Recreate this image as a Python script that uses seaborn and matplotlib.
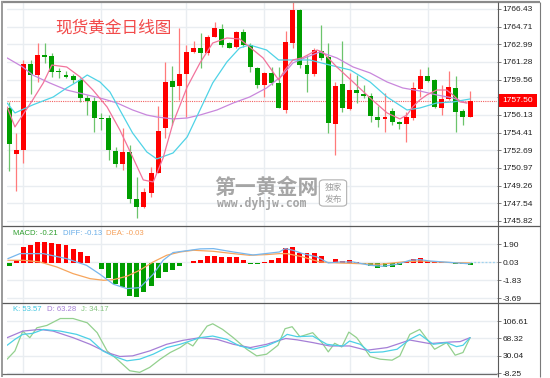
import numpy as np
import pandas as pd
import matplotlib
matplotlib.use("Agg")
import matplotlib.pyplot as plt
import seaborn as sns
from matplotlib.lines import Line2D
from matplotlib.patches import Rectangle, FancyBboxPatch
from matplotlib.transforms import blended_transform_factory

sns.set_style("white")
plt.rcParams['font.family'] = ['DejaVu Sans', 'Noto Sans CJK SC']

# ---------------- data ----------------
opens = [1756.80, 1752.33, 1752.72, 1761.08, 1760.01, 1761.96, 1761.86, 1760.40, 1760.01, 1759.92,
         1759.53, 1757.78, 1757.48, 1755.83, 1755.83, 1752.62, 1751.36, 1752.53, 1747.96, 1747.18,
         1748.54, 1750.49, 1754.86, 1759.43, 1758.94, 1760.11, 1762.25, 1762.64, 1762.15, 1763.71,
         1764.49, 1763.12, 1762.74, 1764.20, 1762.93, 1760.69, 1759.04, 1760.21, 1759.24, 1756.61,
         1763.12, 1766.33, 1760.98, 1760.11, 1762.35, 1761.76, 1755.25, 1759.14, 1756.71, 1758.55,
         1758.17, 1757.97, 1755.93, 1755.74, 1756.51, 1755.44, 1755.25, 1755.83, 1758.65, 1759.92,
         1759.53, 1756.80, 1757.68, 1758.75, 1756.51, 1755.93]
highs = [1757.39, 1754.37, 1761.47, 1761.47, 1763.12, 1763.12, 1762.15, 1760.69, 1760.40, 1760.11,
         1759.72, 1758.07, 1757.87, 1756.32, 1756.12, 1753.01, 1754.86, 1753.21, 1750.10, 1749.03,
         1751.07, 1757.00, 1761.28, 1760.89, 1764.58, 1762.93, 1763.32, 1764.10, 1763.90, 1765.17,
         1764.97, 1763.22, 1764.29, 1764.49, 1763.12, 1760.79, 1760.30, 1760.79, 1760.79, 1764.29,
         1767.11, 1766.43, 1761.96, 1762.64, 1764.87, 1763.12, 1759.33, 1763.32, 1760.21, 1760.01,
         1759.04, 1758.26, 1757.00, 1758.26, 1756.80, 1755.54, 1756.42, 1759.33, 1760.60, 1760.79,
         1759.62, 1759.04, 1760.40, 1759.92, 1756.71, 1758.46]
lows = [1750.68, 1748.74, 1751.46, 1758.17, 1759.33, 1761.18, 1759.82, 1759.72, 1759.72, 1759.24,
        1757.39, 1756.12, 1754.47, 1754.66, 1751.75, 1751.07, 1750.78, 1747.57, 1746.11, 1747.08,
        1748.15, 1750.49, 1753.89, 1755.15, 1757.58, 1755.93, 1762.15, 1760.69, 1761.96, 1763.71,
        1762.74, 1762.64, 1762.64, 1762.74, 1760.30, 1758.75, 1757.87, 1759.04, 1756.80, 1756.32,
        1762.64, 1760.69, 1758.36, 1759.92, 1761.47, 1754.37, 1752.24, 1756.42, 1756.61, 1757.29,
        1757.78, 1755.44, 1754.96, 1754.47, 1755.15, 1754.76, 1753.50, 1755.64, 1757.87, 1759.33,
        1756.80, 1756.12, 1757.58, 1754.47, 1755.15, 1755.93]
closes = [1753.31, 1752.72, 1761.08, 1760.01, 1761.96, 1761.76, 1760.30, 1760.30, 1759.82, 1759.53,
          1757.78, 1757.48, 1755.83, 1755.74, 1752.72, 1751.36, 1752.53, 1747.96, 1747.18, 1748.64,
          1750.49, 1754.57, 1759.33, 1758.85, 1760.11, 1762.25, 1762.64, 1762.15, 1763.71, 1764.58,
          1762.93, 1762.64, 1764.20, 1762.93, 1760.79, 1759.04, 1760.21, 1759.24, 1756.80, 1763.22,
          1766.33, 1760.98, 1760.11, 1762.44, 1761.67, 1755.35, 1758.94, 1756.80, 1758.55, 1758.26,
          1757.97, 1756.03, 1755.64, 1755.93, 1755.44, 1755.25, 1755.93, 1758.75, 1759.92, 1759.43,
          1756.90, 1757.68, 1758.85, 1756.42, 1755.93, 1757.50]

ma_short_x = [-0.3, 0.8, 1.9, 3.3, 4.8, 6.0, 8.1, 10.0, 11.8, 13.8, 15.6, 17.4, 18.9, 20.3, 21.7, 23.1,
              25.1, 26.9, 28.7, 30.7, 32.5, 33.9, 35.8, 37.2, 38.0, 38.9, 40.0, 41.3, 43.4, 44.2, 46.2,
              48.5, 50.9, 53.3, 55.1, 56.1, 56.9, 57.9, 58.9, 60.3, 61.7, 62.6, 63.6, 64.6]
ma_short_y = [1756.90, 1754.96, 1756.12, 1757.58, 1759.24, 1760.98, 1760.79, 1759.82, 1758.55, 1756.90,
              1754.66, 1752.04, 1749.81, 1749.61, 1751.94, 1755.35, 1758.85, 1761.18, 1763.12, 1763.61,
              1763.51, 1762.74, 1761.67, 1760.30, 1759.53, 1760.50, 1761.47, 1761.67, 1762.44, 1762.25,
              1760.79, 1759.33, 1757.78, 1756.32, 1755.74, 1756.12, 1756.90, 1757.58, 1758.07, 1758.55,
              1758.55, 1758.07, 1757.39, 1757.29]
ma_mid_x = [-0.3, 0.8, 3.3, 6.2, 8.1, 10.0, 11.0, 12.8, 14.2, 15.6, 17.4, 19.4, 20.8, 23.1, 25.1, 26.9,
            28.7, 30.7, 32.5, 33.9, 36.3, 38.0, 40.0, 42.4, 45.2, 48.1, 50.9, 53.3, 56.1, 57.9, 60.3,
            62.6, 65.0]
ma_mid_y = [1757.29, 1756.32, 1757.10, 1757.87, 1758.75, 1759.53, 1760.01, 1759.33, 1758.36, 1756.61,
            1754.37, 1752.53, 1751.85, 1752.43, 1753.99, 1756.61, 1759.24, 1761.28, 1762.64, 1762.93,
            1762.44, 1761.47, 1761.47, 1761.47, 1760.98, 1760.50, 1759.33, 1757.87, 1756.61, 1756.80,
            1757.29, 1757.39, 1757.68]
ma_long_x = [-0.3, 1.9, 3.3, 5.7, 8.1, 11.0, 12.8, 15.2, 17.4, 19.4, 20.8, 23.1, 25.1, 26.9, 29.3, 31.6,
             33.9, 36.3, 38.6, 40.0, 42.0, 43.8, 46.2, 48.5, 50.9, 53.3, 55.5, 57.9, 60.3, 62.6, 64.5]
ma_long_y = [1761.67, 1760.79, 1760.01, 1759.24, 1758.55, 1758.07, 1757.78, 1757.29, 1756.61, 1756.12,
             1755.93, 1755.74, 1755.83, 1756.12, 1756.61, 1757.29, 1757.87, 1758.75, 1760.01, 1761.18,
             1761.76, 1762.25, 1761.67, 1760.79, 1760.21, 1759.33, 1758.75, 1758.46, 1758.07, 1757.78,
             1757.29]

price_ticks = [1745.82, 1747.54, 1749.26, 1750.97, 1752.69, 1754.41, 1756.13, 1757.84,
               1759.56, 1761.28, 1762.99, 1764.71, 1766.43]
price_labels = ['1745.82', '1747.54', '1749.26', '1750.97', '1752.69', '1754.41', '1756.13', '',
                '1759.56', '1761.28', '1762.99', '1764.71', '1766.43']
last_price = 1757.50

macd_hist = [-0.35, 0.31, 1.62, 1.79, 2.14, 2.14, 2.04, 1.97, 1.79, 1.45, 1.10, 0.66, -0.07, -0.62,
             -1.55, -2.17, -2.52, -3.48, -3.55, -3.04, -2.42, -1.55, -0.97, -0.79, -0.38, -0.07, 0.17,
             0.31, 0.66, 0.69, 0.59, 0.59, 0.59, 0.24, -0.10, -0.14, 0.07, 0.24, 0.52, 1.55, 1.62, 1.04,
             1.04, 1.04, 0.66, 0.02, 0.41, 0.17, 0.31, 0.10, -0.10, -0.38, -0.52, -0.45, -0.45, -0.28,
             0.02, 0.41, 0.52, 0.17, 0.07, 0.07, 0.03, -0.17, -0.14, -0.21]
diff_x = [-0.2, 1.5, 4.8, 8.1, 10.9, 12.8, 14.7, 16.6, 18.4, 20.3, 21.7, 23.1, 26.9, 28.8, 31.6, 34.4,
          38.1, 38.9, 40.0, 41.4, 43.4, 45.0, 46.6, 48.5, 50.9, 52.7, 54.7, 56.5, 57.9, 59.3, 61.2,
          63.1, 65.0]
diff_y = [0.41, 0.93, 0.93, 0.41, -0.28, -1.21, -2.24, -2.69, -2.59, -1.21, 0.24, 1.04, 1.42, 1.45,
          1.10, 0.79, 1.10, 1.45, 1.28, 0.93, 0.59, -0.03, 0.07, 0.07, -0.28, -0.38, -0.17, 0.24,
          0.31, 0.17, 0.07, -0.03, -0.13]
dea_x = [-0.2, 2.0, 4.3, 6.7, 9.0, 11.4, 13.3, 14.7, 16.6, 18.4, 20.3, 22.2, 24.1, 26.0, 28.8, 31.6,
         33.9, 36.3, 38.1, 39.2, 41.4, 43.8, 46.2, 49.0, 52.3, 55.5, 57.9, 60.3, 62.6, 65.0]
dea_y = [0.24, 0.24, 0.07, -0.45, -1.14, -1.66, -1.83, -1.76, -1.41, -0.79, 0.07, 0.76, 1.10, 1.28,
         1.17, 0.93, 0.76, 0.83, 0.93, 0.93, 0.59, 0.07, -0.03, -0.10, -0.17, 0.07, 0.17, 0.07, 0.0,
         -0.03]
macd_ticks = [-3.69, -1.83, 0.03, 1.90]
macd_labels = ['-3.69', '-1.83', '0.03', '1.90']

k_x = [-0.3, 0.8, 1.9, 3.3, 4.8, 7.2, 9.5, 11.4, 13.2, 14.6, 16.6, 18.4, 20.3, 22.2, 24.1, 25.5, 26.9,
       28.7, 30.7, 32.5, 34.4, 36.3, 37.9, 39.2, 40.6, 42.8, 44.8, 45.9, 47.1, 48.0, 49.5, 50.9, 52.7,
       54.7, 56.5, 57.9, 59.8, 61.7, 63.1, 64.0, 65.0]
k_y = [53.0, 66.1, 77.1, 79.3, 88.0, 84.3, 77.1, 66.1, 40.5, 29.6, 18.6, 22.3, 33.3, 47.9, 55.2, 62.4,
       69.8, 73.4, 66.1, 51.5, 44.2, 51.5, 62.4, 77.1, 72.0, 73.4, 55.2, 53.0, 51.5, 62.4, 55.2, 37.0,
       38.4, 44.2, 66.1, 77.1, 55.2, 58.9, 50.0, 53.0, 69.8]
d_x = [-0.3, 1.9, 4.3, 6.2, 9.0, 11.4, 13.8, 15.6, 17.4, 19.8, 22.2, 24.5, 26.9, 29.3, 31.6, 34.0,
       36.3, 37.9, 39.0, 40.6, 42.8, 45.2, 48.0, 50.4, 53.3, 56.5, 59.3, 62.2, 63.6, 65.0]
d_y = [69.8, 84.3, 88.0, 84.3, 69.8, 55.2, 37.0, 28.2, 29.6, 40.5, 55.2, 63.9, 69.8, 66.1, 55.2, 47.9,
       55.2, 63.0, 68.0, 65.0, 59.0, 51.5, 51.5, 42.0, 47.9, 64.6, 56.7, 60.2, 61.1, 69.8]
j_x = [-0.3, 0.8, 1.9, 2.9, 3.9, 5.3, 7.2, 9.0, 11.0, 12.4, 13.8, 15.2, 17.0, 18.4, 19.8, 21.3, 22.7,
       24.1, 25.1, 25.9, 26.9, 27.9, 28.7, 30.1, 31.6, 33.5, 34.9, 36.3, 37.9, 38.9, 39.9, 41.0, 42.8,
       44.1, 45.0, 45.9, 46.9, 47.9, 49.0, 50.2, 50.9, 52.3, 54.0, 55.1, 56.5, 57.9, 60.0, 61.7, 62.9,
       64.0, 65.0]
j_y = [22.3, 40.5, 84.3, 69.8, 91.7, 96.8, 112.1, 112.1, 102.7, 80.8, 40.5, 22.3, -3.3, -6.8, 4.1,
       22.3, 37.0, 47.9, 58.9, 51.5, 73.4, 95.3, 100.5, 88.0, 69.8, 44.2, 29.6, 33.3, 53.0, 89.6, 94.0,
       72.0, 80.8, 58.9, 38.4, 57.4, 49.3, 82.1, 69.8, 44.2, 28.2, 22.3, 20.1, 29.6, 77.1, 88.0, 44.2,
       58.9, 31.1, 37.0, 69.8]
kdj_ticks = [-8.25, 30.04, 68.32, 106.61]
kdj_labels = ['-8.25', '30.04', '68.32', '106.61']

vgrid = [2, 13, 25, 36, 48, 59]

# ---------------- figure layout ----------------
W, H = 550, 378
fig = plt.figure(figsize=(W / 100, H / 100), dpi=100)
fig.patch.set_facecolor('white')


def rect(x0, y0, x1, y1):
    return [x0 / W, 1 - y1 / H, (x1 - x0) / W, (y1 - y0) / H]


ax1 = fig.add_axes(rect(7, 3, 497, 226))
ax2 = fig.add_axes(rect(7, 226, 497, 303))
ax3 = fig.add_axes(rect(7, 303, 497, 373.5))

TICKFONT = ['Liberation Sans Narrow', 'Liberation Sans']
GRID = '#e9edf1'

for ax in (ax1, ax2, ax3):
    ax.set_facecolor('white')
    ax.set_xlim(-0.32, 68.8)
    for s in ax.spines.values():
        s.set_visible(False)
    ax.yaxis.tick_right()
    ax.set_xticks(vgrid)
    ax.set_xticklabels([])
    ax.tick_params(axis='x', length=0)
    ax.tick_params(axis='y', length=3, width=0.6, color='#666666', pad=1.2,
                   labelsize=6.0, labelcolor='#222222')
    ax.grid(True, color=GRID, lw=1.0)
    ax.set_axisbelow(True)
    ax.set_xlabel('')
    ax.set_ylabel('')

# ---------------- price panel ----------------
ax1.set_ylim(1745.33, 1767.01)
ax1.set_yticks(price_ticks)
ax1.set_yticklabels(price_labels, family=TICKFONT)

df = pd.DataFrame({'o': opens, 'h': highs, 'l': lows, 'c': closes})
df['i'] = np.arange(len(df))
up = df['c'] >= df['o']
body_lo = np.minimum(df['o'], df['c'])
body_h = np.maximum(np.abs(df['c'] - df['o']), 0.1)
wick_cols = np.where(up, '#ff7a7a', '#6cc46c')
body_cols = np.where(up, '#ff0000', '#009e00')
ax1.vlines(df['i'], df['l'], df['h'], colors=wick_cols, lw=0.9, zorder=3)
ax1.bar(df['i'], body_h, bottom=body_lo, width=0.7, color=body_cols, lw=0, zorder=4)

sns.lineplot(x=ma_long_x, y=ma_long_y, ax=ax1, color='#c987dc', lw=0.9, sort=False,
             estimator=None, legend=False, zorder=5)
sns.lineplot(x=ma_mid_x, y=ma_mid_y, ax=ax1, color='#4fd3e6', lw=0.9, sort=False,
             estimator=None, legend=False, zorder=5)
sns.lineplot(x=ma_short_x, y=ma_short_y, ax=ax1, color='#f2739c', lw=0.9, sort=False,
             estimator=None, legend=False, zorder=5)

ax1.axhline(last_price, color='#f26060', lw=0.8, ls=(0, (1, 1)), zorder=2)
btr = blended_transform_factory(ax1.transAxes, ax1.transData)
ax1.add_patch(Rectangle((1.004, last_price - 0.62), 0.078, 1.26, transform=btr,
                        facecolor='#ff0000', edgecolor='none', clip_on=False, zorder=10))
ax1.text(1.043, last_price, f'{last_price:.2f}', transform=btr, ha='center', va='center',
         color='white', fontsize=6.0, family=TICKFONT, zorder=11, clip_on=False)

fig.text(55 / W, 1 - 28 / H, '现货黄金日线图', color='#f24a4a', fontsize=12,
         family=['Noto Sans CJK SC'], ha='left', va='center')

# watermark
fig.text(214 / W, 1 - 188 / H, '第一黄金网', color='#9c9c9c', fontsize=15, fontweight='bold',
         family=['Noto Sans CJK SC'], ha='left', va='center', alpha=0.9)
fig.text(217 / W, 1 - 204 / H, 'www.dyhjw.com', color='#9c9c9c', fontsize=8.3, fontweight='bold',
         family=['DejaVu Sans Mono'], ha='left', va='center', alpha=0.9)
fig.add_artist(FancyBboxPatch((321 / W, 1 - 205 / H), 24 / W, 24 / H,
                              boxstyle='round,pad=0.003,rounding_size=0.008',
                              transform=fig.transFigure, facecolor='white', edgecolor='#a8a8a8',
                              lw=0.8, alpha=0.9))
fig.text(333 / W, 1 - 187 / H, '独家', color='#9c9c9c', fontsize=6.3,
         family=['Noto Sans CJK SC'], ha='center', va='center')
fig.text(333 / W, 1 - 199 / H, '发布', color='#9c9c9c', fontsize=6.3,
         family=['Noto Sans CJK SC'], ha='center', va='center')

# ---------------- MACD panel ----------------
ax2.set_ylim(-4.18, 3.79)
ax2.set_yticks(macd_ticks)
ax2.set_yticklabels(macd_labels, family=TICKFONT)
hist = np.array(macd_hist)
ax2.bar(np.arange(len(hist)), hist, width=0.7, lw=0,
        color=np.where(hist >= 0, '#ff0000', '#009e00'), zorder=3)
sns.lineplot(x=dea_x, y=dea_y, ax=ax2, color='#f7a55c', lw=0.9, sort=False, estimator=None,
             legend=False, zorder=4)
sns.lineplot(x=diff_x, y=diff_y, ax=ax2, color='#77b7ee', lw=0.9, sort=False, estimator=None,
             legend=False, zorder=4)
ax2.plot([diff_x[-1], 68.8], [0.03, 0.03], color='#9fd3ef', lw=0.9, ls=(0, (1.5, 1.5)), zorder=4)

lab_y = 1 - 233.5 / H
fig.text(13 / W, lab_y, f'MACD: {macd_hist[-1]:.2f}', color='#2e9e2e', fontsize=5.6, va='center', family=TICKFONT)
fig.text(63 / W, lab_y, f'DIFF: {diff_y[-1]:.2f}', color='#6aaee8', fontsize=5.6, va='center', family=TICKFONT)
fig.text(106 / W, lab_y, f'DEA: {dea_y[-1]:.2f}', color='#f5a05a', fontsize=5.6, va='center', family=TICKFONT)

# ---------------- KDJ panel ----------------
ax3.set_ylim(-9.35, 146.4)
ax3.set_yticks(kdj_ticks)
ax3.set_yticklabels(kdj_labels, family=TICKFONT)
sns.lineplot(x=j_x, y=j_y, ax=ax3, color='#93d08e', lw=0.9, sort=False, estimator=None,
             legend=False, zorder=3)
sns.lineplot(x=d_x, y=d_y, ax=ax3, color='#a57fd6', lw=0.9, sort=False, estimator=None,
             legend=False, zorder=4)
sns.lineplot(x=k_x, y=k_y, ax=ax3, color='#4cd0e6', lw=0.9, sort=False, estimator=None,
             legend=False, zorder=5)

kdj_y = 1 - 309.5 / H
fig.text(13 / W, kdj_y, 'K: 53.57', color='#3fc6e0', fontsize=5.6, va='center', family=TICKFONT)
fig.text(47 / W, kdj_y, 'D: 63.28', color='#a57fd6', fontsize=5.6, va='center', family=TICKFONT)
fig.text(81 / W, kdj_y, 'J: 34.17', color='#85c47f', fontsize=5.6, va='center', family=TICKFONT)


# ---------------- frame lines ----------------
def fline(x0, y0, x1, y1, color, lw):
    fig.add_artist(Line2D([x0 / W, x1 / W], [1 - y0 / H, 1 - y1 / H], transform=fig.transFigure,
                          color=color, lw=lw, solid_capstyle='butt'))


fline(1, 2, 540, 2, '#8a8a8a', 1.6)
fline(2, 1, 2, 377, '#9a9a9a', 1.4)
fline(539.5, 2, 539.5, 377, '#7a7a7a', 0.8)
fline(2, 226, 540, 226, '#5a5a5a', 0.9)
fline(2, 303, 540, 303, '#5a5a5a', 0.9)
fline(2, 373.5, 497, 373.5, '#6a6a6a', 0.9)
fline(497.5, 2, 497.5, 377, '#5a5a5a', 0.8)

fig.savefig('out.png', dpi=100, facecolor='white')
